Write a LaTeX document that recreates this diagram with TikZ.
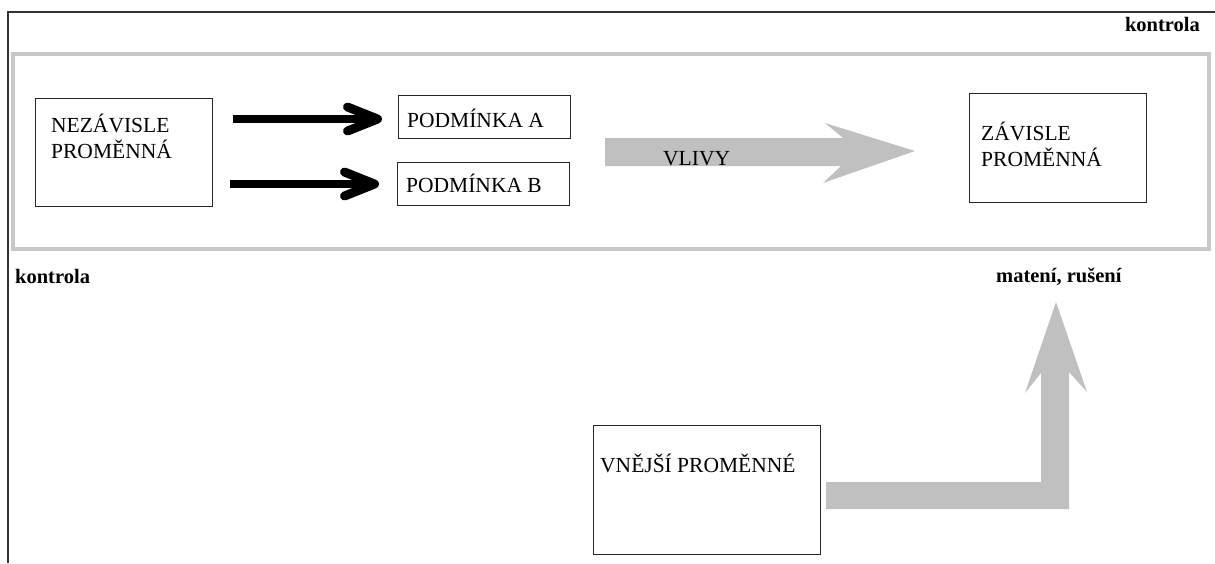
\documentclass[tikz,border=0pt]{standalone}
\usepackage{fontspec}
\setmainfont{Liberation Serif}
\usetikzlibrary{arrows.meta}
\definecolor{blockgray}{HTML}{C0C0C0}
\definecolor{framegray}{HTML}{C8C8C8}
\tikzset{
  boxnode/.style={draw=black!85, line width=1.3pt, inner sep=0pt, anchor=north west},
  txt/.style={inner sep=0pt, anchor=base west, font=\fontsize{21.5}{26}\selectfont, text=black},
  mltxt/.style={txt, align=left, text width=160pt},
  boldtxt/.style={inner sep=0pt, font=\fontsize{20.5}{24}\selectfont\bfseries, text=black},
  blackarr/.style={line width=8pt, black, -{Straight Barb[length=30pt, width=24pt, line width=9pt, round]}},
  blockarrow/.style={fill=blockgray, draw=none},
}
\begin{document}
\begin{tikzpicture}[x=1pt, y=-1pt]
\useasboundingbox (0,0) rectangle (1215,563);
% outer frame
\draw[line width=1.6pt, black!80] (8,563) -- (8,12) -- (1215,12);
% gray control frame
\draw[framegray, line width=3.5pt] (13,54) rectangle (1209,249);
% labels
\node[boldtxt, anchor=base east] (kontrolaT) at (1200,31) {kontrola};
\node[boldtxt, anchor=base west] (kontrolaL) at (15,283) {kontrola};
\node[boldtxt, anchor=base west] (mateni) at (996,282) {matení, rušení};
% boxes
\node[boxnode, minimum width=177pt, minimum height=108pt] (nez) at (35,98) {};
\node[mltxt] (nezt) at (51,132) {NEZÁVISLE\\PROMĚNNÁ};
\node[boxnode, minimum width=172pt, minimum height=43pt] (pa) at (398,95) {};
\node[txt] (pat) at (407,127) {PODMÍNKA A};
\node[boxnode, minimum width=172pt, minimum height=43pt] (pb) at (397,162) {};
\node[txt] (pbt) at (406,192) {PODMÍNKA B};
\node[boxnode, minimum width=177pt, minimum height=109pt] (zav) at (969,93) {};
\node[mltxt] (zavt) at (981,140) {ZÁVISLE\\PROMĚNNÁ};
\node[boxnode, minimum width=227pt, minimum height=129pt] (vne) at (593,425) {};
\node[txt] (vnet) at (600,472) {VNĚJŠÍ PROMĚNNÉ};
% black arrows
\coordinate (a1s) at (233,119);
\coordinate (a2s) at (230,184);
\draw[blackarr, shorten >=16pt] (a1s) -- (a1s -| pa.west);
\draw[blackarr, shorten >=18pt] (a2s) -- (a2s -| pb.west);
% VLIVY block arrow
\fill[blockarrow] (605,138) -- (843,138) -- (825,123) -- (915,151) -- (823,183) -- (841,166) -- (605,166) -- cycle;
\node[txt] (vlivy) at (663,165) {VLIVY};
% L-shaped block arrow
\fill[blockarrow] (826,482) -- (1041,482) -- (1041,373) -- (1025,393) -- (1056,302) -- (1087,392) -- (1069,372) -- (1069,509) -- (826,509) -- cycle;
\end{tikzpicture}
\end{document}
